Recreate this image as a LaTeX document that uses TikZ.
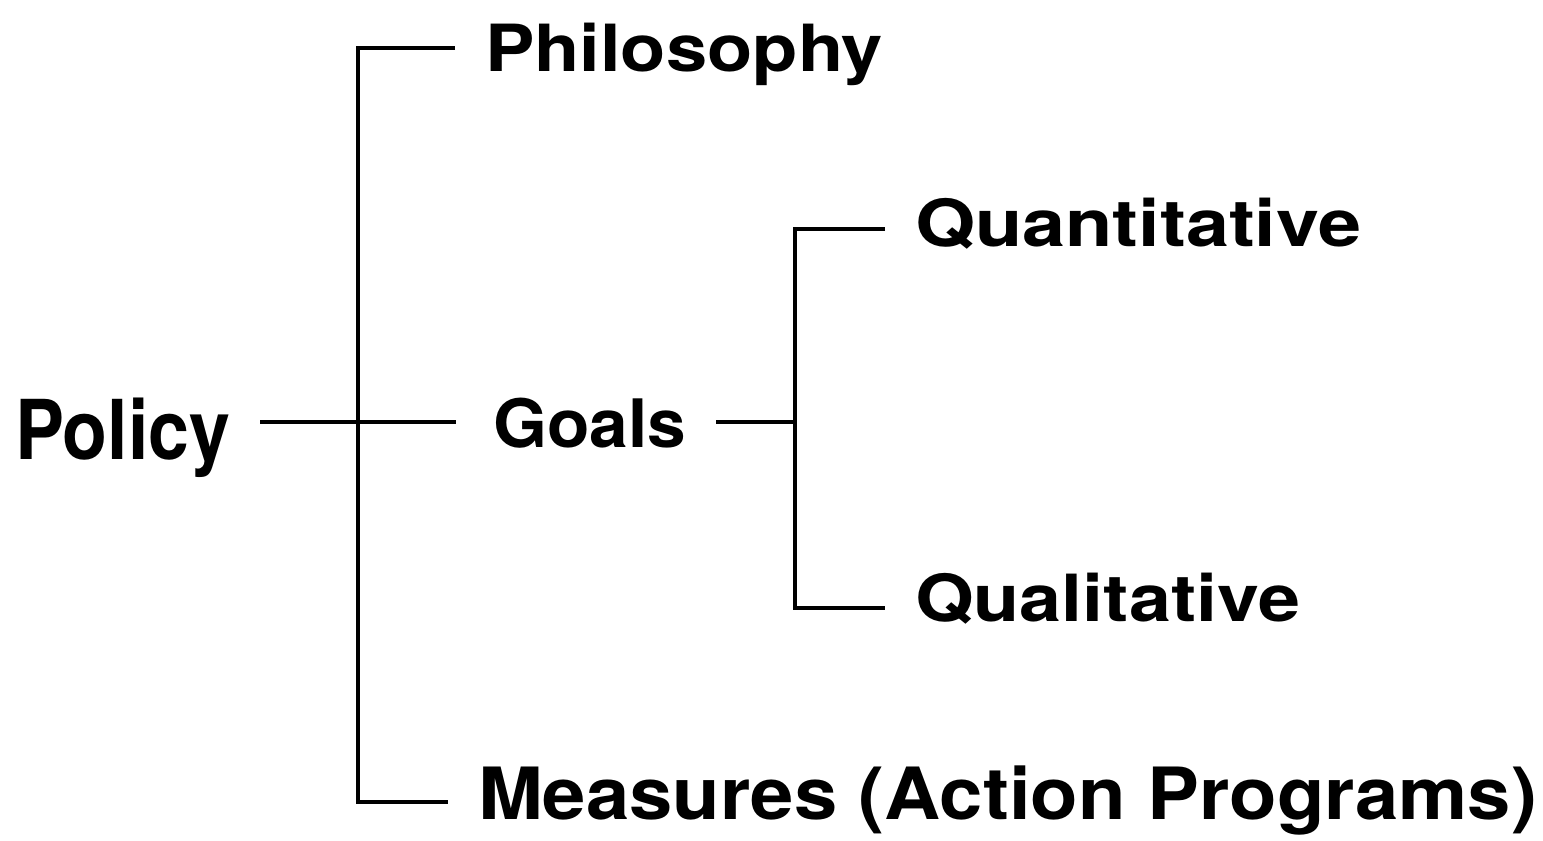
\documentclass[tikz,border=0pt]{standalone}
\usepackage{fontspec}
\setmainfont{TeX Gyre Heros}
\usepackage{graphicx}
% widen a word horizontally, the type is spaced out
\newcommand\widen[2]{\scalebox{#1}[1]{#2}}

\begin{document}
\begin{tikzpicture}[
  term/.style={anchor=base west, inner sep=0pt, outer xsep=0.6cm, outer ysep=0pt,
    font=\bfseries\fontsize{#1}{#1}\selectfont},
  bracket/.style={line width=2.6pt, line join=miter}]
  \useasboundingbox (0,0) rectangle (30.86,16.8);

  % the terms
  \node[term=47] (policy) at (-0.3,7.6) {\widen{0.89}{Policy}};
  \node[term=37] (philosophy) at (9.1,15.36) {\widen{1.14}{Philosophy}};
  \node[term=38] (goals) at (9.26,7.84) {\widen{1.04}{Goals}};
  \node[term=41] (measures) at (8.96,0.4) {\widen{1.08}{Measures (Action Programs)}};
  \node[term=37] (quantitative) at (17.7,11.86) {\widen{1.19}{Quantitative}};
  \node[term=37] (qualitative) at (17.7,4.36) {\widen{1.16}{Qualitative}};

  % corners of the two brackets
  \coordinate (outer top) at (7.16,15.84);
  \coordinate (outer bottom) at (7.16,0.76);
  \coordinate (cross) at (7.16,8.36);
  \coordinate (inner top) at (15.9,12.22);
  \coordinate (inner bottom) at (15.9,4.64);

  \draw[bracket] (philosophy.west |- outer top) -- (outer top) -- (outer bottom)
    -- (measures.west |- outer bottom);
  \draw[bracket] (policy.east |- cross) -- ([xshift=-0.15cm]goals.west |- cross);
  \draw[bracket] (goals.east |- cross) -- (inner top |- cross);
  \draw[bracket] (quantitative.west |- inner top) -- (inner top) -- (inner bottom)
    -- (qualitative.west |- inner bottom);
\end{tikzpicture}
\end{document}
